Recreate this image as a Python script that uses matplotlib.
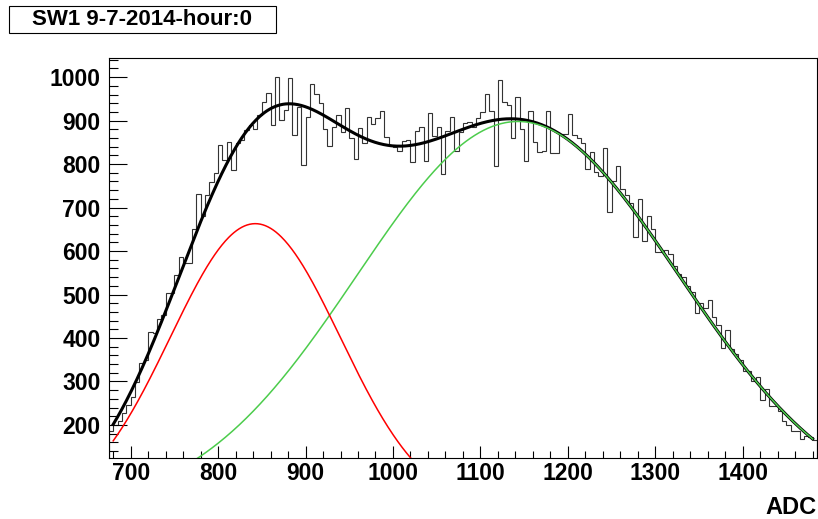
import numpy as np
import matplotlib.pyplot as plt
from matplotlib.patches import Rectangle

plt.rcParams['font.family'] = ['Liberation Sans', 'DejaVu Sans']

# histogram: 5 ADC bins from 675 to 1485
bin_lo = 675
bin_w = 5
counts = [185, 200, 210, 228, 246, 265, 299, 342, 349, 414,
          411, 443, 453, 503, 503, 545, 586, 572, 572, 650,
          731, 680, 729, 759, 779, 843, 809, 851, 786, 848,
          855, 878, 890, 880, 913, 943, 963, 890, 1000, 901,
          924, 999, 867, 932, 798, 908, 984, 961, 940, 880,
          841, 886, 913, 874, 928, 859, 811, 882, 848, 909,
          893, 905, 922, 863, 841, 839, 831, 853, 855, 805,
          876, 885, 808, 917, 864, 886, 777, 876, 908, 831,
          874, 894, 897, 885, 905, 920, 961, 922, 795, 993,
          943, 936, 859, 954, 880, 807, 922, 850, 828, 830,
          922, 826, 826, 870, 870, 915, 867, 860, 849, 788,
          827, 782, 772, 838, 689, 762, 795, 742, 729, 710,
          633, 720, 623, 680, 651, 598, 598, 602, 593, 565,
          547, 540, 520, 505, 458, 480, 468, 487, 448, 430,
          376, 418, 374, 363, 349, 323, 323, 300, 310, 257,
          282, 244, 244, 232, 208, 200, 185, 185, 167, 175,
          173, 166]

# fitted gaussians (amplitude, mean, sigma)
g1 = (663, 842.5, 97.1)
g2 = (898, 1143.0, 184.0)
fit_range = (680, 1480)

edges = bin_lo + bin_w * np.arange(len(counts) + 1)

def gaus(x, p):
    a, m, s = p
    return a * np.exp(-0.5 * ((x - m) / s) ** 2)

xf = np.linspace(fit_range[0], fit_range[1], 800)
y1 = gaus(xf, g1)
y2 = gaus(xf, g2)

fig = plt.figure(figsize=(8.18, 5.19), dpi=100)
ax = fig.add_axes([109/818, 61/519, 708/818, 400/519])

ax.stairs(counts, edges, color='#333333', lw=0.8)
ax.plot(xf, y1 + y2, color='black', lw=2.2)
ax.plot(xf, y2, color='#4ccc4c', lw=1.1)
ax.plot(xf, y1, color='#ff0000', lw=1.1)

ax.set_xlim(675.2, 1485)
ax.set_ylim(124, 1044)
ax.set_xticks(np.arange(700, 1401, 100))
ax.set_xticks(np.arange(680, 1481, 20), minor=True)
ax.set_yticks(np.arange(200, 1001, 100))
ax.set_yticks(np.arange(140, 1041, 20), minor=True)

ax.tick_params(axis='x', which='major', direction='in', length=9, width=0.8, pad=3,
               top=False, labelsize=16.5)
ax.tick_params(axis='x', which='minor', direction='in', length=4.8, width=0.8, top=False)
ax.tick_params(axis='y', which='major', direction='in', length=13, width=0.8, pad=6,
               right=False, labelsize=16.5)
ax.tick_params(axis='y', which='minor', direction='in', length=6.5, width=0.8, right=False)
for lab in ax.get_xticklabels() + ax.get_yticklabels():
    lab.set_fontweight('bold')
for sp in ax.spines.values():
    sp.set_linewidth(0.8)

fig.text(817/818, 1 - 507/519, 'ADC', ha='right', va='center',
         fontsize=17, fontweight='bold')

fig.patches.append(Rectangle((9/818, 1 - 33/519), 267/818, 27/519,
                             transform=fig.transFigure, facecolor='white',
                             edgecolor='black', lw=0.8))
fig.text(142.5/818, 1 - 19.5/519, 'SW1 9-7-2014-hour:0', ha='center', va='center',
         fontsize=16, fontweight='bold')

fig.savefig('out.png', dpi=100)
